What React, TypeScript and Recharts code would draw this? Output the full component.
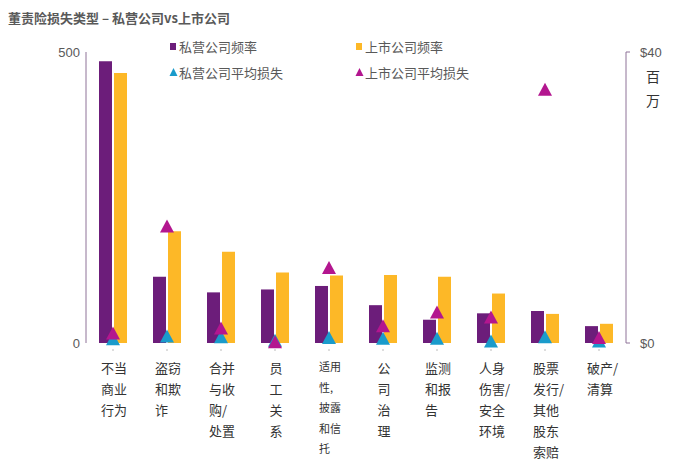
import { ComposedChart, Bar, Scatter, XAxis, YAxis, Legend } from "recharts"

const categories = [
  "不当商业行为",
  "盗窃和欺诈",
  "合并与收购/处置",
  "员工关系",
  "适用性,披露和信托",
  "公司治理",
  "监测和报告",
  "人身伤害/安全环境",
  "股票发行/其他股东索赔",
  "破产/清算",
]

// x 轴标签的分行
const tickLines = [
  ["不当", "商业", "行为"],
  ["盗窃", "和欺", "诈"],
  ["合并", "与收", "购/", "处置"],
  ["员", "工", "关", "系"],
  ["适用", "性,", "披露", "和信", "托"],
  ["公", "司", "治", "理"],
  ["监测", "和报", "告"],
  ["人身", "伤害/", "安全", "环境"],
  ["股票", "发行/", "其他", "股东", "索赔"],
  ["破产/", "清算"],
]

// 频率（左轴）
const privateFreq = [484, 114, 87, 92, 98, 65, 40, 51, 55, 29]
const publicFreq = [464, 192, 157, 121, 116, 117, 114, 85, 50, 33]

// 平均损失（右轴，百万美元）
const privateLoss = [0.5, 0.9, 0.8, 0.3, 0.7, 0.6, 0.6, 0.2, 0.8, 0.2]
const publicLoss = [1.3, 16, 2, 0.1, 10.3, 2.3, 4.2, 3.5, 34.8, 0.7]

const leftTicks = [0, 500]
const rightTicks = [0, 40]

const purple = "#6C1D7A"
const orange = "#FDB827"
const cyan = "#1A9BCB"
const magenta = "#B3168F"
const grey = "#595959"
const font = "'Noto Sans CJK SC', 'Noto Sans', sans-serif"
const numFont = "'Liberation Sans', Arial, sans-serif"

const data = categories.map((name, i) => ({
  name,
  privateFreq: privateFreq[i],
  publicFreq: publicFreq[i],
  privateLoss: privateLoss[i],
  publicLoss: publicLoss[i],
}))

const cjkCount = (s: string) => [...s].filter((ch) => /[\u4e00-\u9fff]/.test(ch)).length

function CategoryTick(props: any) {
  const { x, y, payload } = props
  const lines = tickLines[payload.index] || []
  const small = lines[0] === "适用"
  const size = small ? 11 : 13
  const lh = small ? 20.5 : 21
  const blockW = Math.max(...lines.map((l) => cjkCount(l))) * size
  const left = x - blockW / 2 + 1
  return (
    <g>
      <line x1={x} x2={x} y1={y + 6} y2={y + 8} stroke="#bbb" />
      {lines.map((l, i) => (
        <text
          key={i}
          x={left}
          y={y + (small ? 28 : 30) + i * lh}
          fontSize={size}
          fill="#333"
          fontFamily={font}
        >
          {l}
        </text>
      ))}
    </g>
  )
}

function Triangle(props: any) {
  const { cx, cy, fill } = props
  if (cx == null || cy == null) return null
  return (
    <polygon
      points={`${cx},${cy - 7} ${cx - 7},${cy + 6} ${cx + 7},${cy + 6}`}
      fill={fill}
    />
  )
}

const legendItems = [
  { label: "私营公司频率", color: purple, kind: "square" },
  { label: "上市公司频率", color: orange, kind: "square" },
  { label: "私营公司平均损失", color: cyan, kind: "triangle" },
  { label: "上市公司平均损失", color: magenta, kind: "triangle" },
]

function renderLegend() {
  return (
    <div
      style={{
        display: "grid",
        gridTemplateColumns: "186px 186px",
        rowGap: 8,
        fontFamily: font,
        fontSize: 13,
        color: grey,
      }}
    >
      {legendItems.map((it) => (
        <div key={it.label} style={{ display: "flex", alignItems: "center", height: 18 }}>
          <svg width={9} height={10} style={{ marginRight: 1 }}>
            {it.kind === "square" ? (
              <rect x={1} y={2} width={6} height={7} fill={it.color} />
            ) : (
              <polygon points="4.5,1 0.5,9 8.5,9" fill={it.color} />
            )}
          </svg>
          {it.label}
        </div>
      ))}
    </div>
  )
}

function UnitLabel(props: any) {
  const { viewBox } = props
  const x = viewBox.x + 27
  return (
    <g>
      <text x={x} y={82} fontSize={14} fill="#333" fontFamily={font} textAnchor="middle">
        百
      </text>
      <text x={x} y={106} fontSize={14} fill="#333" fontFamily={font} textAnchor="middle">
        万
      </text>
    </g>
  )
}

export default function App() {
  return (
    <div
      style={{
        position: "absolute",
        left: 0,
        top: 0,
        width: 690,
        height: 474,
        background: "#fff",
        fontFamily: font,
      }}
    >
      <div
        style={{
          position: "absolute",
          left: 8,
          top: 8,
          fontSize: 13,
          fontWeight: "bold",
          color: grey,
          zIndex: 2,
        }}
      >
        董责险损失类型 – 私营公司vs上市公司
      </div>
      <ComposedChart
        width={690}
        height={474}
        data={data}
        margin={{ top: 52, right: 0, bottom: 0, left: 0 }}
        barGap={2}
        barSize={13}
      >
        <XAxis
          dataKey="name"
          height={131}
          axisLine={false}
          tickLine={false}
          tickSize={0}
          tickMargin={0}
          interval={0}
          tick={<CategoryTick />}
        />
        <YAxis
          yAxisId="left"
          width={86}
          domain={[0, 500]}
          ticks={leftTicks}
          axisLine={{ stroke: "#8E7298" }}
          tickLine={false}
          tickSize={0}
          tickMargin={6}
          tick={{ fontSize: 13, fill: grey, fontFamily: numFont }}
        />
        <YAxis
          yAxisId="right"
          orientation="right"
          width={64}
          domain={[0, 40]}
          ticks={rightTicks}
          tickFormatter={(v: number) => `$${v}`}
          axisLine={{ stroke: "#8E7298" }}
          tickLine={{ stroke: "#8E7298" }}
          tickSize={4}
          tickMargin={10}
          tick={{ fontSize: 13, fill: grey, fontFamily: numFont }}
          label={<UnitLabel />}
        />
        <Legend
          layout="vertical"
          align="center"
          verticalAlign="middle"
          wrapperStyle={{ left: 169, top: 37, width: 380 }}
          content={renderLegend}
        />
        <Bar yAxisId="left" dataKey="privateFreq" fill={purple} isAnimationActive={false} />
        <Bar yAxisId="left" dataKey="publicFreq" fill={orange} isAnimationActive={false} />
        <Scatter
          yAxisId="right"
          dataKey="privateLoss"
          fill={cyan}
          shape={<Triangle fill={cyan} />}
          isAnimationActive={false}
        />
        <Scatter
          yAxisId="right"
          dataKey="publicLoss"
          fill={magenta}
          shape={<Triangle fill={magenta} />}
          isAnimationActive={false}
        />
      </ComposedChart>
    </div>
  )
}
